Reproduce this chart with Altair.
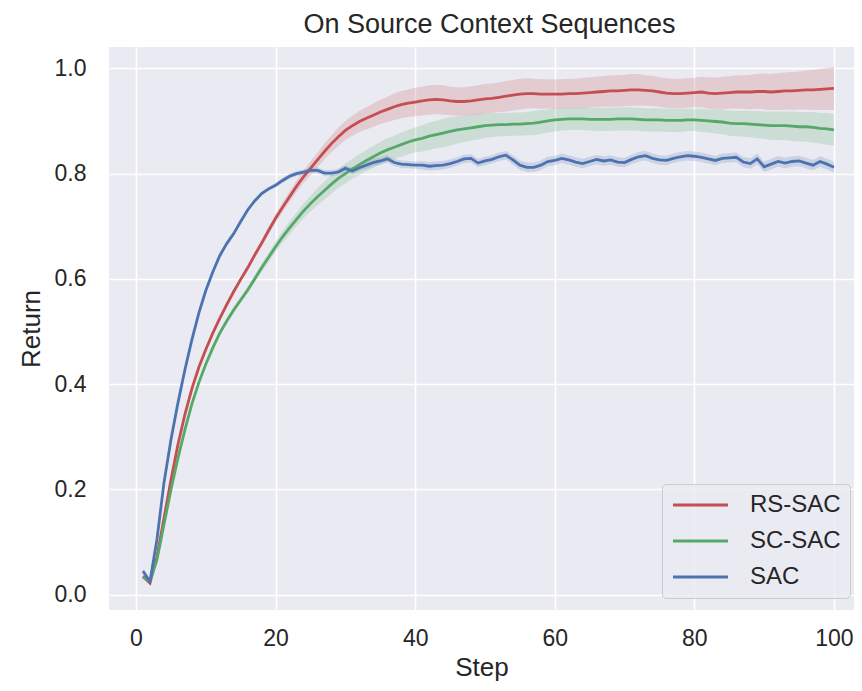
import altair as alt
import pandas as pd

steps = list(range(1, 101))

rs_sac = [0.035, 0.022, 0.072, 0.145, 0.218, 0.285, 0.342, 0.391, 0.432, 0.466,
          0.497, 0.525, 0.551, 0.576, 0.599, 0.621, 0.645, 0.668, 0.692, 0.715,
          0.736, 0.756, 0.776, 0.794, 0.810, 0.826, 0.842, 0.857, 0.870, 0.882,
          0.891, 0.899, 0.905, 0.911, 0.917, 0.922, 0.927, 0.931, 0.934, 0.936,
          0.938, 0.940, 0.941, 0.940, 0.938, 0.937, 0.937, 0.938, 0.940, 0.942,
          0.943, 0.945, 0.947, 0.949, 0.951, 0.952, 0.952, 0.951, 0.951, 0.951,
          0.951, 0.952, 0.952, 0.953, 0.954, 0.955, 0.956, 0.957, 0.957, 0.958,
          0.959, 0.959, 0.958, 0.957, 0.955, 0.953, 0.952, 0.952, 0.953, 0.954,
          0.955, 0.953, 0.952, 0.953, 0.954, 0.955, 0.955, 0.955, 0.956, 0.956,
          0.955, 0.956, 0.957, 0.957, 0.958, 0.959, 0.959, 0.960, 0.961, 0.962]
rs_sac_ci = [0.004, 0.004, 0.004, 0.004, 0.004, 0.004, 0.004, 0.004, 0.004, 0.004,
             0.004, 0.004, 0.005, 0.005, 0.005, 0.006, 0.006, 0.007, 0.007, 0.008,
             0.009, 0.010, 0.011, 0.012, 0.013, 0.014, 0.015, 0.016, 0.017, 0.018,
             0.019, 0.020, 0.021, 0.022, 0.023, 0.024, 0.025, 0.026, 0.026, 0.027,
             0.027, 0.028, 0.028, 0.028, 0.027, 0.027, 0.027, 0.028, 0.028, 0.028,
             0.028, 0.028, 0.029, 0.029, 0.029, 0.029, 0.028, 0.028, 0.028, 0.028,
             0.028, 0.028, 0.028, 0.029, 0.029, 0.029, 0.029, 0.030, 0.030, 0.030,
             0.030, 0.030, 0.029, 0.029, 0.028, 0.028, 0.028, 0.028, 0.028, 0.028,
             0.029, 0.030, 0.030, 0.031, 0.031, 0.032, 0.032, 0.033, 0.033, 0.034,
             0.034, 0.035, 0.035, 0.036, 0.036, 0.037, 0.038, 0.039, 0.040, 0.041]

sc_sac = [0.033, 0.026, 0.066, 0.133, 0.199, 0.259, 0.313, 0.362, 0.403, 0.438,
          0.469, 0.497, 0.520, 0.541, 0.560, 0.579, 0.600, 0.621, 0.641, 0.661,
          0.680, 0.697, 0.713, 0.729, 0.743, 0.756, 0.768, 0.780, 0.791, 0.800,
          0.809, 0.817, 0.825, 0.832, 0.839, 0.845, 0.850, 0.855, 0.860, 0.864,
          0.867, 0.871, 0.874, 0.877, 0.880, 0.883, 0.885, 0.887, 0.889, 0.891,
          0.892, 0.893, 0.893, 0.894, 0.894, 0.895, 0.896, 0.898, 0.900, 0.902,
          0.903, 0.904, 0.904, 0.904, 0.903, 0.903, 0.903, 0.903, 0.904, 0.904,
          0.904, 0.903, 0.902, 0.902, 0.902, 0.901, 0.901, 0.901, 0.902, 0.902,
          0.901, 0.900, 0.899, 0.898, 0.896, 0.895, 0.895, 0.894, 0.893, 0.892,
          0.891, 0.891, 0.891, 0.890, 0.889, 0.889, 0.888, 0.886, 0.885, 0.883]
sc_sac_ci = [0.004, 0.004, 0.004, 0.004, 0.004, 0.004, 0.004, 0.004, 0.004, 0.004,
             0.004, 0.005, 0.005, 0.006, 0.006, 0.007, 0.007, 0.008, 0.009, 0.010,
             0.011, 0.012, 0.013, 0.014, 0.015, 0.016, 0.017, 0.018, 0.018, 0.019,
             0.019, 0.020, 0.020, 0.021, 0.021, 0.022, 0.022, 0.023, 0.023, 0.024,
             0.025, 0.026, 0.026, 0.027, 0.027, 0.026, 0.025, 0.024, 0.024, 0.023,
             0.023, 0.022, 0.022, 0.022, 0.022, 0.022, 0.023, 0.023, 0.022, 0.022,
             0.021, 0.021, 0.021, 0.021, 0.021, 0.022, 0.022, 0.022, 0.022, 0.022,
             0.022, 0.022, 0.022, 0.022, 0.022, 0.022, 0.022, 0.022, 0.021, 0.021,
             0.022, 0.022, 0.023, 0.023, 0.024, 0.024, 0.025, 0.025, 0.026, 0.026,
             0.027, 0.027, 0.027, 0.028, 0.028, 0.028, 0.029, 0.029, 0.030, 0.030]

sac = [0.045, 0.025, 0.105, 0.212, 0.294, 0.364, 0.427, 0.484, 0.535, 0.578,
       0.613, 0.644, 0.667, 0.686, 0.709, 0.731, 0.748, 0.762, 0.771, 0.778,
       0.787, 0.795, 0.800, 0.803, 0.806, 0.806, 0.801, 0.801, 0.803, 0.810,
       0.805, 0.811, 0.816, 0.821, 0.824, 0.828, 0.821, 0.818, 0.817, 0.816,
       0.816, 0.814, 0.815, 0.816, 0.819, 0.823, 0.828, 0.829, 0.820, 0.824,
       0.827, 0.832, 0.835, 0.826, 0.816, 0.812, 0.812, 0.816, 0.823, 0.825,
       0.829, 0.826, 0.822, 0.819, 0.823, 0.827, 0.824, 0.826, 0.822, 0.821,
       0.827, 0.832, 0.834, 0.829, 0.826, 0.825, 0.829, 0.832, 0.834, 0.833,
       0.831, 0.828, 0.825, 0.829, 0.830, 0.831, 0.822, 0.819, 0.828, 0.813,
       0.818, 0.823, 0.820, 0.823, 0.824, 0.820, 0.816, 0.823, 0.818, 0.812]
sac_ci = [0.004, 0.004, 0.004, 0.004, 0.004, 0.004, 0.004, 0.004, 0.004, 0.004,
          0.004, 0.004, 0.004, 0.004, 0.004, 0.004, 0.004, 0.004, 0.004, 0.004,
          0.005, 0.005, 0.005, 0.005, 0.005, 0.006, 0.006, 0.006, 0.006, 0.006,
          0.006, 0.006, 0.007, 0.007, 0.007, 0.007, 0.007, 0.007, 0.007, 0.007,
          0.008, 0.008, 0.008, 0.008, 0.008, 0.008, 0.008, 0.008, 0.008, 0.008,
          0.008, 0.008, 0.008, 0.009, 0.009, 0.009, 0.009, 0.009, 0.009, 0.009,
          0.009, 0.009, 0.009, 0.009, 0.009, 0.009, 0.009, 0.009, 0.009, 0.009,
          0.009, 0.009, 0.009, 0.009, 0.009, 0.009, 0.009, 0.009, 0.009, 0.009,
          0.009, 0.009, 0.009, 0.009, 0.009, 0.009, 0.010, 0.010, 0.010, 0.010,
          0.010, 0.010, 0.010, 0.010, 0.010, 0.010, 0.010, 0.010, 0.010, 0.010]

series_names = ["RS-SAC", "SC-SAC", "SAC"]
series_colors = ["#C44E52", "#55A868", "#4C72B0"]
x_ticks = [0, 20, 40, 60, 80, 100]
y_ticks = [0.0, 0.2, 0.4, 0.6, 0.8, 1.0]

rows = []
for name, means, cis in zip(series_names, [rs_sac, sc_sac, sac], [rs_sac_ci, sc_sac_ci, sac_ci]):
    for s, m, c in zip(steps, means, cis):
        rows.append({"Step": s, "Return": m, "lo": m - c, "hi": m + c, "Series": name})
df = pd.DataFrame(rows)

FONT = "Liberation Sans"
TXT = "#262626"

x_enc = alt.X("Step:Q", scale=alt.Scale(domain=[-3.87, 102.87], nice=False, zero=False),
              axis=alt.Axis(values=x_ticks, title="Step", format="d"))
y_scale = alt.Scale(domain=[-0.029, 1.0405], nice=False, zero=False)

legend = alt.Legend(title=None, orient="none", legendX=553, legendY=437,
                    symbolType="M-1,0L4.5,0", symbolSize=400, symbolStrokeWidth=2.8,
                    symbolOpacity=1, labelFontSize=24, labelFont=FONT, labelColor=TXT,
                    labelOffset=55, rowPadding=12, padding=9,
                    fillColor="rgba(234,234,242,0.8)", strokeColor="#CCCCCC",
                    cornerRadius=4)
color_enc = alt.Color("Series:N", scale=alt.Scale(domain=series_names, range=series_colors),
                      legend=legend)

band = alt.Chart(df).mark_area(opacity=0.2, clip=True).encode(
    x=x_enc,
    y=alt.Y("lo:Q", scale=y_scale, axis=alt.Axis(values=y_ticks, format=".1f", title="Return")),
    y2="hi:Q",
    color=color_enc,
)

line = alt.Chart(df).mark_line(strokeWidth=2.8, clip=True).encode(
    x=x_enc,
    y=alt.Y("Return:Q", scale=y_scale),
    color=color_enc,
)

chart = alt.layer(band, line).properties(
    width=745,
    height=563,
    title=alt.Title("On Source Context Sequences", fontSize=27, font=FONT, color=TXT,
                    fontWeight="normal", anchor="middle", baseline="alphabetic",
                    frame="group", offset=15, dx=8, dy=28),
    autosize=alt.AutoSizeParams(type="none"),
    padding={"left": 101, "top": 39, "right": 0, "bottom": 72},
).configure_view(
    fill="#EAEAF2", stroke=None,
).configure_axis(
    grid=True, gridColor="white", gridWidth=1.6, domain=False, ticks=False, tickSize=0,
    labelFont=FONT, labelFontSize=23, labelColor=TXT,
    titleFont=FONT, titleFontSize=26, titleColor=TXT, titleFontWeight="normal",
).configure_axisX(
    labelPadding=17, titleBaseline="alphabetic", titleY=65,
).configure_axisY(
    labelPadding=23, titleBaseline="alphabetic", titleX=-70,
)

chart.save("out.html", embed_options={"renderer": "svg", "actions": False})
